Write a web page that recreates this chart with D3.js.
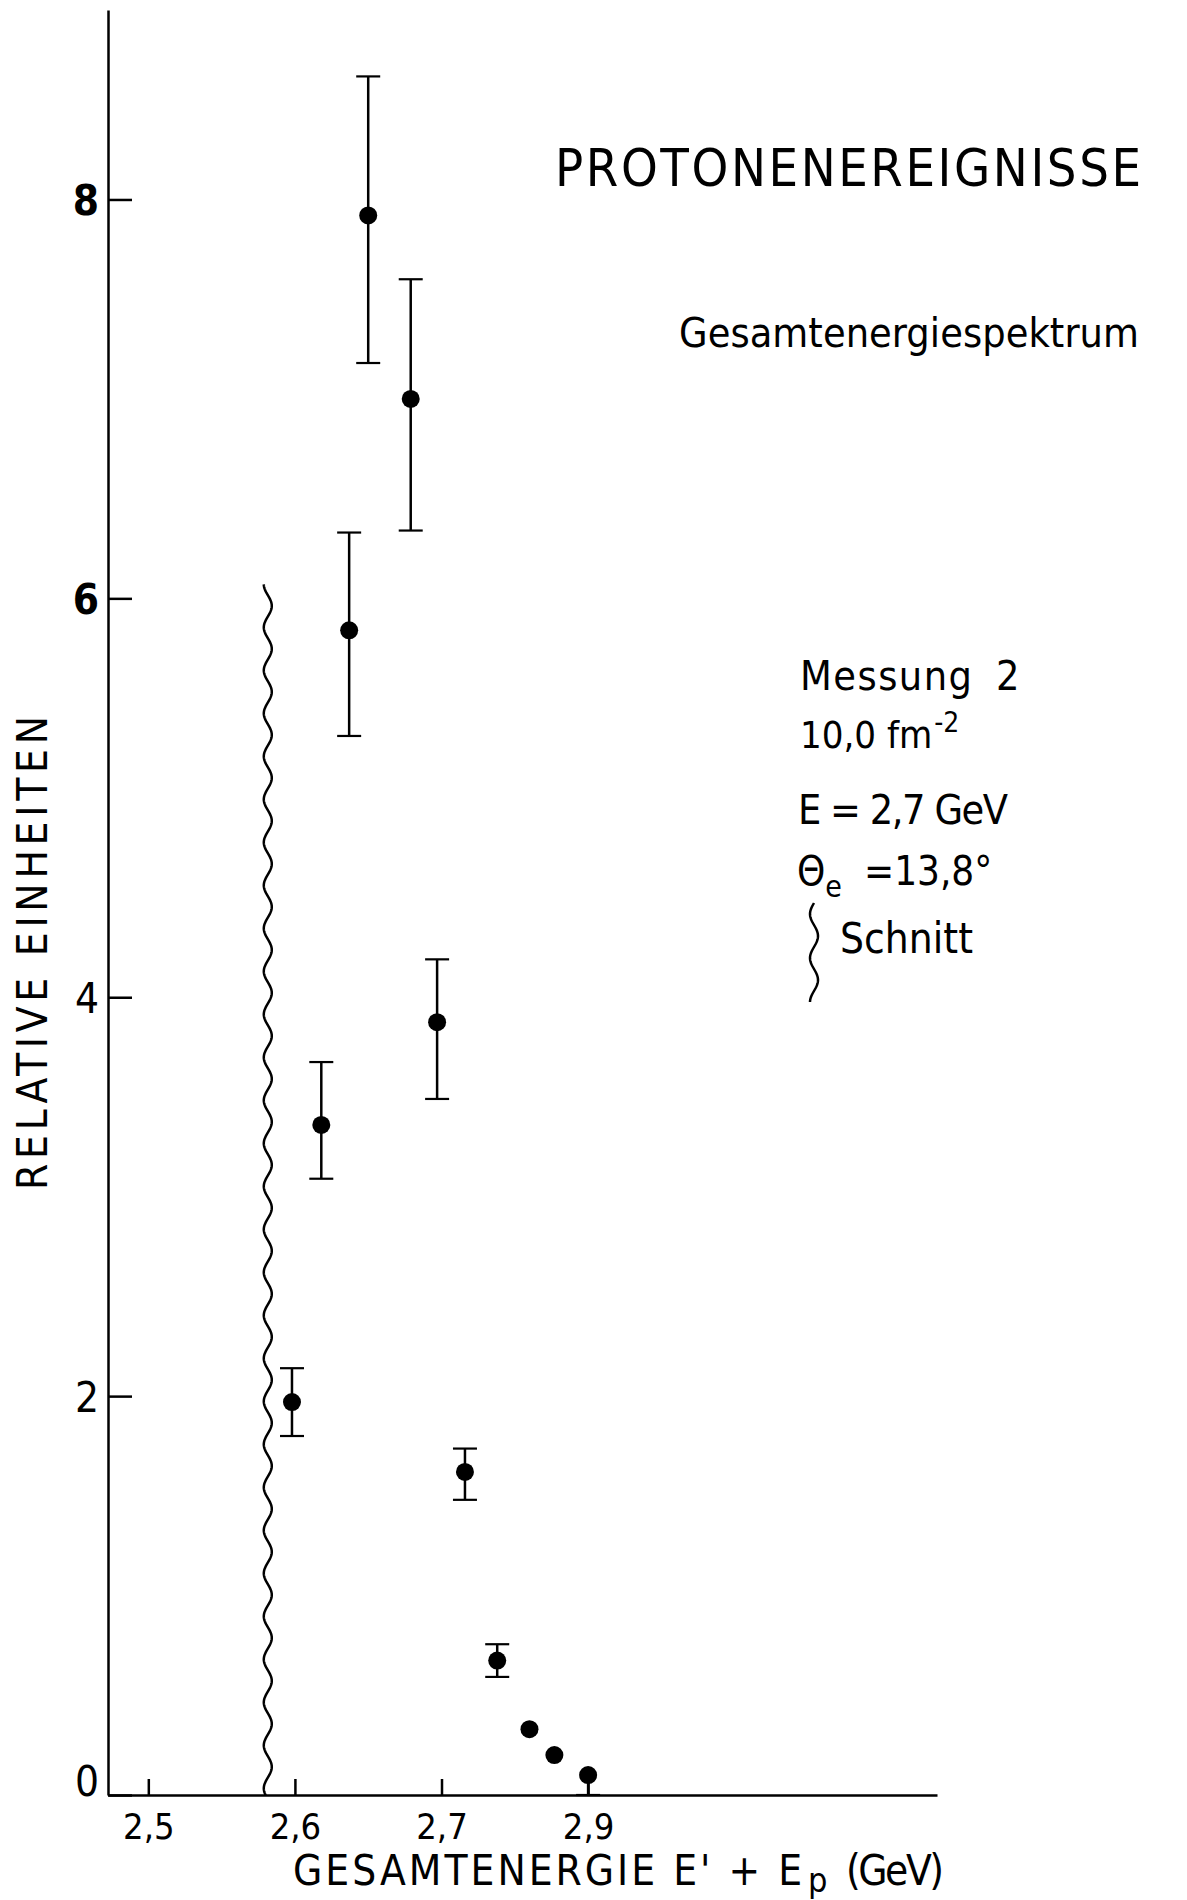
<!DOCTYPE html>
<html lang="en">
<head>
    <meta charset="UTF-8">
    <title>Protonenereignisse</title>
    <script src="https://cdn.jsdelivr.net/npm/d3@7/dist/d3.min.js"></script>
    <style>
        body { margin: 0; background: #fff; }
        text {
            font-family: "DejaVu Sans Condensed", "DejaVu Sans", sans-serif;
            font-stretch: condensed;
            fill: #000;
        }
        .axis path, .axis line { stroke: #000; stroke-width: 2.5px; }
        .err { stroke: #000; stroke-width: 2.5px; }
        .cap { stroke: #000; stroke-width: 2.2px; }
        .wave { fill: none; stroke: #000; stroke-width: 2.5px; }
    </style>
</head>
<body>
    <div id="chart"></div>

    <script type="text/javascript">

        // values
        var energy  = [2.598, 2.618, 2.637, 2.650, 2.679, 2.697, 2.716, 2.738, 2.760, 2.777, 2.800];
        var counts  = [1.97, 3.36, 5.84, 7.92, 7.00, 3.875, 1.62, 0.674, 0.33, 0.20, 0.10];
        var errHigh = [2.14, 3.675, 6.33, 8.617, 7.60, 4.19, 1.737, 0.756, null, null, null];
        var errLow  = [1.80, 3.09, 5.31, 7.18, 6.34, 3.49, 1.48, 0.592, null, null, 0];

        var xTicks = [2.5, 2.6, 2.7, 2.8];
        var xTickLabels = ["2,5", "2,6", "2,7", "2,9"];
        var yTicks = [0, 2, 4, 6, 8];
        var yTickLabels = ["0", "2", "4", "6", "8"];

        // the "Schnitt" cut line
        var cutEnergy = 2.5815;
        var cutTop = 6.07;

        var w = 1187,
            h = 1900;

        var svg = d3.select("#chart")
            .append("svg")
            .attr("width", w)
            .attr("height", h);

        var x = d3.scaleLinear().domain([2.4725, 3.038]).range([108, 937]);
        var y = d3.scaleLinear().domain([0, 8.95]).range([1795, 10]);

        // x axis, ticks pointing up
        var gx = svg.append("g")
            .attr("class", "axis")
            .attr("transform", "translate(0," + y(0) + ")")
            .call(d3.axisBottom(x)
                .tickValues(xTicks)
                .tickSize(-16)
                .tickSizeOuter(0)
                .tickFormat(function(d, i) { return xTickLabels[i]; }));
        gx.selectAll("text")
            .attr("y", 44)
            .attr("dy", null)
            .style("font-size", "36px");

        // y axis, ticks pointing right
        var gy = svg.append("g")
            .attr("class", "axis")
            .attr("transform", "translate(" + x.range()[0] + ",0)")
            .call(d3.axisLeft(y)
                .tickValues(yTicks)
                .tickSize(-24)
                .tickSizeOuter(0)
                .tickPadding(9)
                .tickFormat(function(d, i) { return yTickLabels[i]; }));
        gy.selectAll("text")
            .attr("dy", function(d) { return d === 0 ? "0em" : "0.36em"; })
            .style("font-weight", function(d) { return d >= 6 ? "bold" : "normal"; })
            .style("font-size", "42px");

        // cut line (wavy)
        var amp = 4, period = 43;
        var cx = x(cutEnergy), y0 = y(cutTop), y1 = y(0);
        var wavePts = d3.range(y0, y1 + 1, 1).map(function(yy) {
            return [cx - amp * Math.cos(2 * Math.PI * (yy - y0) / period), yy];
        });
        svg.append("path")
            .attr("class", "wave")
            .attr("d", d3.line()(wavePts));

        // error bars
        var bars = energy.map(function(e, i) {
            return {e: e, v: counts[i], lo: errLow[i], hi: errHigh[i]};
        }).filter(function(d) { return d.lo !== null || d.hi !== null; });

        svg.selectAll(".err")
            .data(bars)
            .enter()
            .append("line")
            .attr("class", "err")
            .attr("x1", function(d) { return x(d.e); })
            .attr("x2", function(d) { return x(d.e); })
            .attr("y1", function(d) { return y(d.lo !== null ? d.lo : d.v); })
            .attr("y2", function(d) { return y(d.hi !== null ? d.hi : d.v); });

        var caps = [];
        bars.forEach(function(d) {
            if (d.hi !== null) caps.push({e: d.e, v: d.hi});
            if (d.lo !== null) caps.push({e: d.e, v: d.lo});
        });
        svg.selectAll(".cap")
            .data(caps)
            .enter()
            .append("line")
            .attr("class", "cap")
            .attr("x1", function(d) { return x(d.e) - 12; })
            .attr("x2", function(d) { return x(d.e) + 12; })
            .attr("y1", function(d) { return y(d.v); })
            .attr("y2", function(d) { return y(d.v); });

        // points
        svg.selectAll(".dot")
            .data(energy)
            .enter()
            .append("circle")
            .attr("class", "dot")
            .attr("cx", function(d) { return x(d); })
            .attr("cy", function(d, i) { return y(counts[i]); })
            .attr("r", 9)
            .attr("fill", "#000");

        // titles
        svg.append("text")
            .attr("x", 555).attr("y", 186)
            .attr("textLength", 586).attr("lengthAdjust", "spacing")
            .style("font-size", "52px")
            .text("PROTONENEREIGNISSE");

        svg.append("text")
            .attr("x", 679).attr("y", 347)
            .attr("textLength", 460).attr("lengthAdjust", "spacing")
            .style("font-size", "41px")
            .text("Gesamtenergiespektrum");

        // info block
        svg.append("text")
            .attr("x", 800).attr("y", 690)
            .attr("textLength", 172).attr("lengthAdjust", "spacing")
            .style("font-size", "41px")
            .text("Messung");
        svg.append("text")
            .attr("x", 996).attr("y", 690)
            .style("font-size", "41px")
            .text("2");

        var fm = svg.append("text")
            .attr("x", 800).attr("y", 748)
            .style("font-size", "38px")
            .text("10,0 fm");
        fm.append("tspan")
            .attr("dx", 2).attr("dy", -16)
            .style("font-size", "28px")
            .text("-2");

        svg.append("text")
            .attr("x", 798).attr("y", 824)
            .attr("textLength", 210).attr("lengthAdjust", "spacing")
            .style("font-size", "41px")
            .text("E = 2,7 GeV");

        var theta = svg.append("text")
            .attr("x", 797).attr("y", 885)
            .style("font-size", "40px")
            .text("\u0398");
        theta.append("tspan")
            .attr("dy", 12)
            .style("font-size", "30px")
            .text("e");
        theta.append("tspan")
            .attr("x", 864).attr("dy", -12)
            .style("font-size", "40px")
            .text("=13,8\u00b0");

        // small squiggle before "Schnitt"
        var bx = 814, by0 = 903, by1 = 1002;
        var bracePts = d3.range(by0, by1 + 1, 1).map(function(yy) {
            return [bx - amp * Math.sin(2 * Math.PI * (yy - by0) / 44), yy];
        });
        svg.append("path")
            .attr("class", "wave")
            .attr("d", d3.line()(bracePts));

        svg.append("text")
            .attr("x", 840).attr("y", 953)
            .attr("textLength", 133).attr("lengthAdjust", "spacing")
            .style("font-size", "42px")
            .text("Schnitt");

        // axis titles
        svg.append("text")
            .attr("transform", "translate(47,953) rotate(-90)")
            .attr("text-anchor", "middle")
            .attr("textLength", 474).attr("lengthAdjust", "spacing")
            .style("font-size", "42px")
            .text("RELATIVE EINHEITEN");

        var xt = svg.append("text")
            .attr("x", 293).attr("y", 1885)
            .style("font-size", "42px");
        xt.append("tspan")
            .attr("textLength", 509).attr("lengthAdjust", "spacing")
            .text("GESAMTENERGIE E' + E");
        xt.append("tspan")
            .attr("x", 808).attr("dy", 7)
            .style("font-size", "34px")
            .text("p");
        xt.append("tspan")
            .attr("x", 846).attr("dy", -7)
            .attr("textLength", 98).attr("lengthAdjust", "spacing")
            .text("(GeV)");
    </script>
</body>
</html>
